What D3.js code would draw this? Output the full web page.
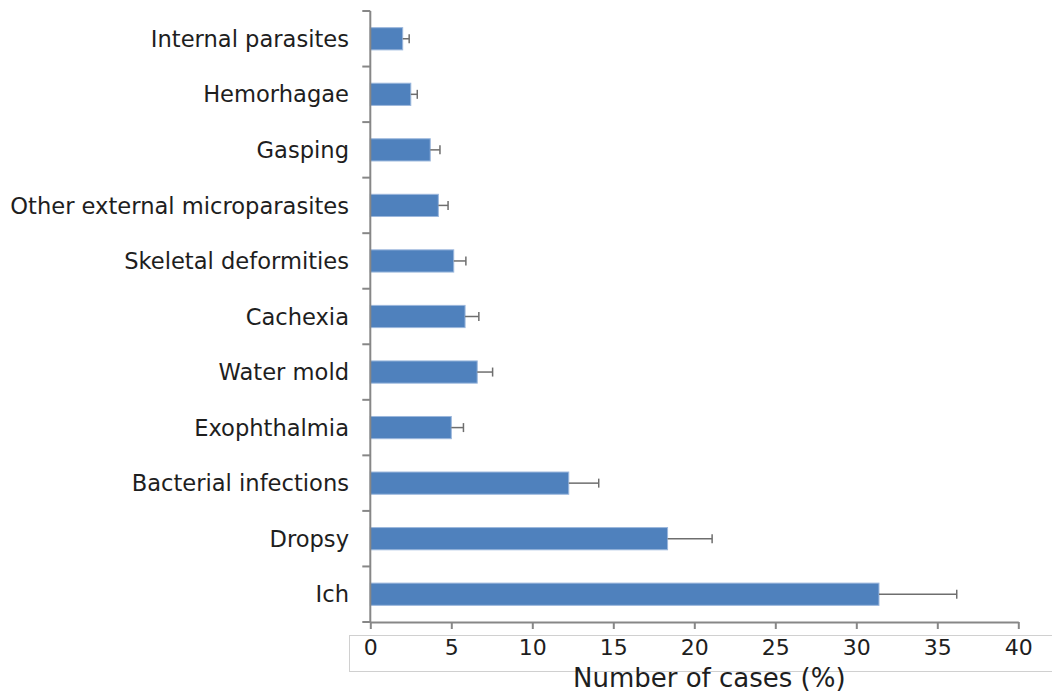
<!DOCTYPE html>
<html>
<head>
<meta charset="utf-8">
<script src="https://cdn.jsdelivr.net/npm/d3@7"></script>
<style>
  html, body { margin: 0; padding: 0; background: #fff; }
  svg { display: block; font-family: "DejaVu Sans", Verdana, sans-serif; }
</style>
</head>
<body>
<svg id="chart" width="1052" height="695"></svg>
<script>
// Disease categories, listed top to bottom
const categories = [
  "Internal parasites", "Hemorhagae", "Gasping", "Other external microparasites",
  "Skeletal deformities", "Cachexia", "Water mold", "Exophthalmia",
  "Bacterial infections", "Dropsy", "Ich"
];
// Share of cases (%) and the standard error of each
const values = [2.0, 2.5, 3.7, 4.2, 5.15, 5.85, 6.6, 5.0, 12.25, 18.35, 31.4];
const errors = [0.4, 0.4, 0.6, 0.6, 0.75, 0.85, 0.95, 0.75, 1.85, 2.75, 4.8];
const xTicks = [0, 5, 10, 15, 20, 25, 30, 35, 40];
const xTitle = "Number of cases (%)";

const data = categories.map((c, i) => ({ c, v: values[i], e: errors[i] }));

const svg = d3.select("#chart");
const plotLeft = 370.3, plotRight = 1018.3, plotTop = 11, plotBottom = 622;
const axisColor = "#878787";

const x = d3.scaleLinear().domain([0, 40]).range([plotLeft, plotRight]);
const y = d3.scaleBand().domain(categories).range([plotTop, plotBottom]).paddingInner(0.6).paddingOuter(0.3);
const band = d3.scaleBand().domain(categories).range([plotTop, plotBottom]);

// Box behind the tick labels
svg.append("rect")
  .attr("x", 349.5).attr("y", 635.5)
  .attr("width", 720).attr("height", 36)
  .attr("fill", "none").attr("stroke", "#d0d0d0").attr("stroke-width", 1);

// Bars
svg.append("g").selectAll("rect").data(data).join("rect")
  .attr("x", x(0))
  .attr("y", d => y(d.c))
  .attr("width", d => x(d.v) - x(0))
  .attr("height", y.bandwidth())
  .attr("fill", "#4f81bd")
  .attr("stroke", "#9bb7dc")
  .attr("stroke-width", 1);

// Error bars (positive direction only)
const eb = svg.append("g").attr("stroke", "#6e6e6e").attr("stroke-width", 1.5);
eb.selectAll("line.whisker").data(data).join("line")
  .attr("class", "whisker")
  .attr("x1", d => x(d.v)).attr("x2", d => x(d.v + d.e))
  .attr("y1", d => y(d.c) + y.bandwidth() / 2)
  .attr("y2", d => y(d.c) + y.bandwidth() / 2);
eb.selectAll("line.cap").data(data).join("line")
  .attr("class", "cap")
  .attr("x1", d => x(d.v + d.e)).attr("x2", d => x(d.v + d.e))
  .attr("y1", d => y(d.c) + y.bandwidth() / 2 - 4.5)
  .attr("y2", d => y(d.c) + y.bandwidth() / 2 + 4.5);

// Y axis: line with ticks on the category boundaries
const yAxis = svg.append("g").attr("stroke", axisColor).attr("stroke-width", 2);
yAxis.append("line").attr("x1", plotLeft).attr("x2", plotLeft).attr("y1", plotTop).attr("y2", plotBottom);
const bounds = categories.map(c => band(c)).concat([plotBottom]);
yAxis.selectAll("line.tick").data(bounds).join("line")
  .attr("class", "tick")
  .attr("x1", plotLeft - 8).attr("x2", plotLeft)
  .attr("y1", d => d).attr("y2", d => d);

// Category labels
svg.append("g").selectAll("text").data(categories).join("text")
  .attr("x", 349)
  .attr("y", c => band(c) + band.bandwidth() / 2)
  .attr("dy", "0.36em")
  .attr("text-anchor", "end")
  .attr("font-size", 22.6)
  .attr("fill", "#1e1e1e")
  .text(c => c);

// X axis
const xAxis = svg.append("g").attr("transform", `translate(0,${plotBottom})`)
  .call(d3.axisBottom(x).tickValues(xTicks).tickSize(7).tickSizeOuter(0).tickPadding(10));
xAxis.select(".domain").attr("stroke", axisColor).attr("stroke-width", 2);
xAxis.selectAll(".tick line").attr("stroke", axisColor).attr("stroke-width", 2);
xAxis.selectAll(".tick text")
  .attr("font-size", 22)
  .attr("font-family", "DejaVu Sans, Verdana, sans-serif")
  .attr("fill", "#1e1e1e");

// Axis title
svg.append("text")
  .attr("x", (plotLeft + plotRight) / 2 + 15)
  .attr("y", 687)
  .attr("text-anchor", "middle")
  .attr("font-size", 26)
  .attr("fill", "#1e1e1e")
  .text(xTitle);
</script>
</body>
</html>
